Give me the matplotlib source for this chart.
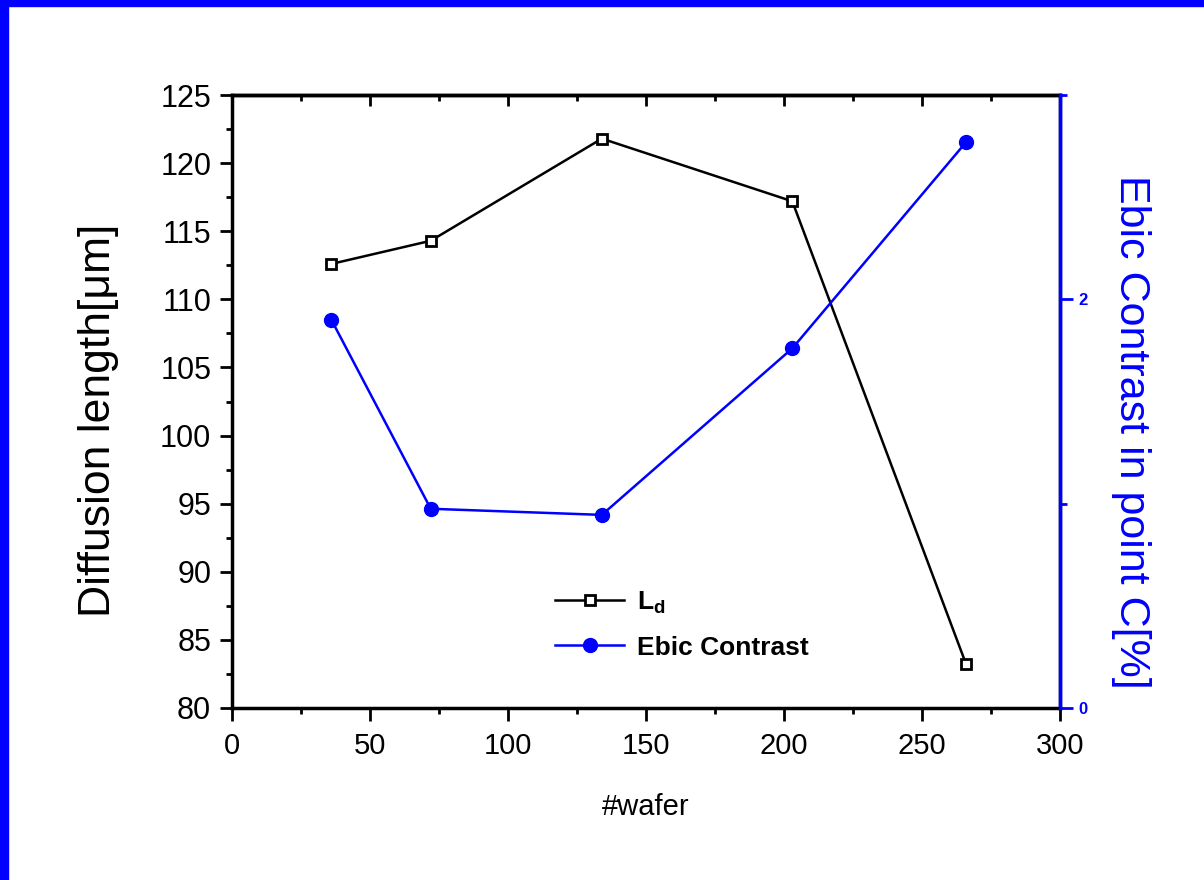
import matplotlib
matplotlib.use("Agg")
import matplotlib.pyplot as plt
from matplotlib.ticker import MultipleLocator
from matplotlib.patches import Rectangle

wafer = [36, 72, 134, 203, 266]
diff_len = [112.6, 114.3, 121.8, 117.2, 83.2]
ebic = [1.90, 0.975, 0.945, 1.76, 2.77]

BLUE = "#0000ff"
plt.rcParams["font.family"] = ["Liberation Sans", "DejaVu Sans"]

fig = plt.figure(figsize=(12.04, 8.8), dpi=100)
ax = fig.add_axes([0.1927, 0.1955, 0.6877, 0.6965])
ax2 = ax.twinx()

# frame strips along the top and left edges
fig.patches.append(Rectangle((0, 1 - 6 / 880), 1, 6 / 880, transform=fig.transFigure,
                             color=BLUE, zorder=10))
fig.patches.append(Rectangle((0, 0), 8 / 1204, 1, transform=fig.transFigure,
                             color=BLUE, zorder=10))

l1, = ax.plot(wafer, diff_len, color="black", lw=1.8, marker="s", ms=7,
              mfc="white", mec="black", mew=2)
l2, = ax2.plot(wafer, ebic, color=BLUE, lw=1.8, marker="o", ms=10,
               mfc=BLUE, mec=BLUE)

ax.set_xlim(0, 300)
ax.set_ylim(80, 125)
ax2.set_ylim(0, 3)

ax.xaxis.set_major_locator(MultipleLocator(50))
ax.xaxis.set_minor_locator(MultipleLocator(25))
ax.yaxis.set_major_locator(MultipleLocator(5))
ax.yaxis.set_minor_locator(MultipleLocator(2.5))
ax2.yaxis.set_major_locator(MultipleLocator(2))
ax2.yaxis.set_minor_locator(MultipleLocator(1))

for s in ax.spines.values():
    s.set_linewidth(2.5)
ax2.spines["right"].set_color(BLUE)
ax2.spines["right"].set_linewidth(2.5)
for s in ["left", "top", "bottom"]:
    ax2.spines[s].set_visible(False)

ax.tick_params(axis="y", which="major", direction="out", length=9, width=2,
               labelsize=22, right=False, pad=6)
ax.tick_params(axis="y", which="minor", direction="out", length=4, width=2, right=False)
ax.tick_params(axis="x", which="major", direction="out", length=9, width=2,
               labelsize=21, pad=8)
ax.tick_params(axis="x", which="minor", direction="out", length=4, width=2)

# inward ticks on the top edge
top = ax.secondary_xaxis("top")
top.xaxis.set_major_locator(MultipleLocator(50))
top.xaxis.set_minor_locator(MultipleLocator(25))
top.tick_params(axis="x", which="major", direction="in", length=8, width=2,
                labeltop=False)
top.tick_params(axis="x", which="minor", direction="in", length=4, width=2)
top.spines["top"].set_linewidth(2.5)

ax2.tick_params(axis="y", which="major", direction="out", length=9, width=2,
                colors=BLUE, labelsize=12, pad=4)
ax2.tick_params(axis="y", which="minor", direction="out", length=5, width=2, colors=BLUE)
for t in ax2.get_yticklabels():
    t.set_fontweight("bold")

ax.set_xlabel("#wafer", fontsize=21, labelpad=24)
ax.set_ylabel("Diffusion length[\u03bcm]", fontsize=32)
ax.yaxis.set_label_coords(-0.136, 0.47)
ax2.set_ylabel("Ebic Contrast in point C[%]", fontsize=31, color=BLUE,
               rotation=270, va="center")
ax2.yaxis.set_label_coords(1.086, 0.45)

ax.legend([l1, l2], ["L$_\\mathregular{d}$", "Ebic Contrast"], loc="lower left",
          bbox_to_anchor=(0.362, 0.04), frameon=False,
          handlelength=2.6, handletextpad=0.5, labelspacing=0.75,
          prop={"weight": "bold", "size": 19})

fig.savefig("out.png", dpi=100)
